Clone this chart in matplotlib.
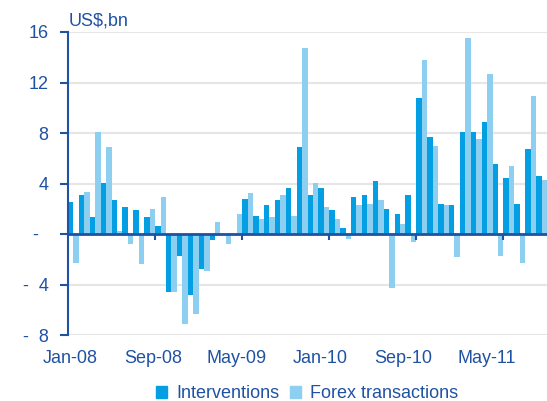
import numpy as np
import pandas as pd
import matplotlib
matplotlib.use("Agg")
import matplotlib.pyplot as plt
from matplotlib.patches import Patch

plt.rcParams['font.family'] = ['Liberation Sans', 'DejaVu Sans']

# monthly data, Jan-08 .. Aug-11 (US$ bn)
months = pd.date_range("2008-01-01", periods=44, freq="MS").strftime("%b-%y").tolist()
interventions = [2.52, 3.07, 1.32, 4.02, 2.67, 2.12, 1.88, 1.32, 0.61, -4.6, -1.75, -4.85,
                 -2.78, -0.48, 0.0, 0.0, 2.75, 1.4, 2.28, 2.67, 3.63, 6.88, 3.07, 3.63,
                 1.88, 0.45, 2.91, 3.07, 4.18, 1.96, 1.56, 3.07, 10.78, 7.68, 2.36, 2.28,
                 8.08, 8.08, 8.87, 5.53, 4.42, 2.36, 6.72, 4.58]
forex = [-2.3, 3.31, 8.08, 6.88, 0.21, -0.8, -2.38, 1.96, 2.91, -4.6, -7.15, -6.35,
         -2.94, 0.93, -0.8, 1.56, 3.23, 1.16, 1.32, 3.07, 1.4, 14.75, 4.02, 2.12,
         1.16, -0.4, 2.28, 2.36, 2.67, -4.29, 0.77, -0.64, 13.79, 6.96, 2.28, -1.83,
         15.54, 7.52, 12.68, -1.75, 5.37, -2.3, 10.93, 4.26]
yticks = [-8, -4, 0, 4, 8, 12, 16]
ytick_labels = ["-  8", "-  4", "-  ", "4", "8", "12", "16"]

dark = "#049fe2"
light = "#8ccff0"
txt = "#1f52a3"
fs = 13

fig = plt.figure(figsize=(5.47, 4.01), dpi=100)
ax = fig.add_axes([68/547, 66/401, 479/547, 303/401])

x = np.arange(len(months))
ax.bar(x - 0.25, interventions, width=0.5, color=dark, zorder=2)
ax.bar(x + 0.25, forex, width=0.5, color=light, zorder=2)

ax.set_xlim(-0.5, len(months) - 0.5)
ax.set_ylim(-8, 16)
ax.set_yticks(yticks)
ax.set_yticklabels(ytick_labels)
ax.grid(axis='y', color='#e6e6e6', linewidth=1.5, zorder=0)
ax.axhline(0, color=txt, linewidth=2, zorder=3)

for s in ['top', 'right', 'bottom']:
    ax.spines[s].set_visible(False)
ax.spines['left'].set_color(txt)
ax.spines['left'].set_linewidth(1.5)
ax.tick_params(axis='y', colors=txt, labelsize=fs, length=6, width=1.5, pad=8)

# category boundary ticks on the zero line
bounds = np.arange(0, len(months), 8) - 0.5
ax.vlines(bounds[1:], -0.5, 0, color=txt, linewidth=1.5, zorder=3)

# date labels along the bottom
lab_idx = np.arange(0, len(months), 8)
ax.set_xticks(lab_idx * 0.957 - 0.32)
ax.set_xticklabels([months[i] for i in lab_idx])
ax.tick_params(axis='x', colors=txt, labelsize=fs, length=0, pad=11)

ax.text(-0.45, 16.55, "US$,bn", color=txt, fontsize=fs, ha='left', va='baseline')

handles = [Patch(color=dark, label="Interventions"),
           Patch(color=light, label="Forex transactions")]
leg = fig.legend(handles=handles, loc='center', bbox_to_anchor=(307/547, 1 - 394/401),
                 ncol=2, frameon=False, fontsize=fs, handlelength=0.6, handleheight=0.6,
                 handletextpad=0.5, columnspacing=0.6)
for t in leg.get_texts():
    t.set_color(txt)

fig.savefig("out.png", dpi=100)
